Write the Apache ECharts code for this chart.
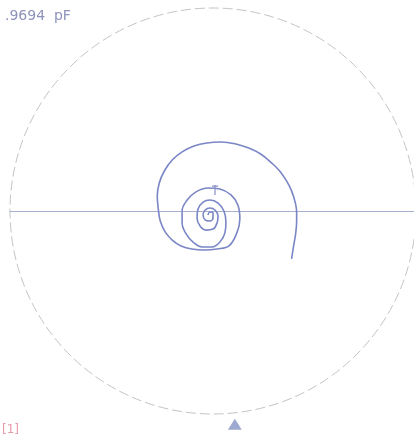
<!DOCTYPE html>
<html><head><meta charset="utf-8">
<script src="https://cdn.jsdelivr.net/npm/echarts@6/dist/echarts.min.js"></script>
<style>html,body{margin:0;padding:0;background:#fff}#c{width:414px;height:437px}</style>
</head><body><div id="c"></div>
<script>
const traceRe = [0.394,0.404,0.414,0.419,0.419,0.414,0.394,0.369,0.335,0.296,0.241,0.182,0.118,0.044,-0.025,-0.089,-0.148,-0.197,-0.236,-0.261,-0.271,-0.266,-0.256,-0.232,-0.197,-0.153,-0.099,-0.039,0.025,0.084,
  0.123,0.138,0.128,0.094,0.039,-0.020,-0.079,-0.123,-0.148,-0.148,-0.128,-0.094,-0.049,0.000,
  0.039,0.064,0.069,0.059,0.030,-0.010,-0.044,-0.069,-0.074,-0.059,-0.030,0.005,0.025,0.030,0.015,-0.010,-0.034,-0.044,-0.034,-0.010,0.005,0.005,-0.010,-0.020];
const traceIm = [-0.236,-0.172,-0.113,-0.049,-0.010,0.034,0.099,0.148,0.197,0.236,0.281,0.310,0.330,0.340,0.335,0.320,0.291,0.251,0.197,0.138,0.074,0.010,-0.049,-0.103,-0.143,-0.172,-0.187,-0.192,-0.187,-0.172,
  -0.108,-0.039,0.030,0.079,0.108,0.113,0.094,0.054,0.000,-0.059,-0.113,-0.153,-0.177,-0.177,
  -0.153,-0.108,-0.054,0.000,0.039,0.054,0.044,0.010,-0.034,-0.074,-0.094,-0.089,-0.059,-0.025,0.005,0.015,0.005,-0.020,-0.044,-0.049,-0.034,-0.010,-0.005,-0.020];
// marker "1" glyph on the trace
const markRe = [0.000, 0.030, null, 0.015, 0.015];
const markIm = [0.123, 0.123, null, 0.128, 0.079];
// active marker indicator below the chart
const indicatorRe = [0.113];
const indicatorIm = [-1.05];
const valueLabel = '.9694  pF';
const traceLabel = '[1]';

const pairs = (a, b) => a.map((v, i) => (v === null ? [null, null] : [v, b[i]]));

const chart = echarts.init(document.getElementById('c'), null, {renderer: 'canvas'});
chart.setOption({
  animation: false,
  backgroundColor: '#ffffff',
  title: [
    {text: valueLabel, left: 0, top: 4, textStyle: {fontFamily: 'DejaVu Sans', fontSize: 14, fontWeight: 'normal', color: '#8d92bb'}},
    {text: traceLabel, left: -3, top: 419, textStyle: {fontFamily: 'DejaVu Sans', fontSize: 12, fontWeight: 'normal', color: '#e59aa8'}}
  ],
  polar: {center: [213, 211], radius: 203},
  angleAxis: {type: 'value', min: 0, max: 360, axisLine: {show: true, lineStyle: {color: '#c4c4c4', width: 1, type: [10, 4]}}, axisTick: {show: false}, axisLabel: {show: false}, splitLine: {show: false}},
  radiusAxis: {type: 'value', min: 0, max: 1, axisLine: {show: false}, axisTick: {show: false}, axisLabel: {show: false}, splitLine: {show: false}},
  grid: {left: 10, top: 8, width: 406, height: 406},
  xAxis: {type: 'value', min: -1, max: 1, axisLine: {show: true, onZero: true, lineStyle: {color: '#aab0cf', width: 1}}, axisTick: {show: false}, axisLabel: {show: false}, splitLine: {show: false}},
  yAxis: {type: 'value', min: -1, max: 1, axisLine: {show: false}, axisTick: {show: false}, axisLabel: {show: false}, splitLine: {show: false}},
  series: [
    {type: 'line', data: pairs(traceRe, traceIm), smooth: 0.4, showSymbol: false, lineStyle: {color: '#7a86c6', width: 1.6}},
    {type: 'line', data: pairs(markRe, markIm), showSymbol: false, connectNulls: false, lineStyle: {color: '#8a8fc4', width: 1.2}},
    {type: 'scatter', data: pairs(indicatorRe, indicatorIm), symbol: 'triangle', symbolSize: [14, 11], clip: false, itemStyle: {color: '#8593c4'}}
  ]
});
</script></body></html>
